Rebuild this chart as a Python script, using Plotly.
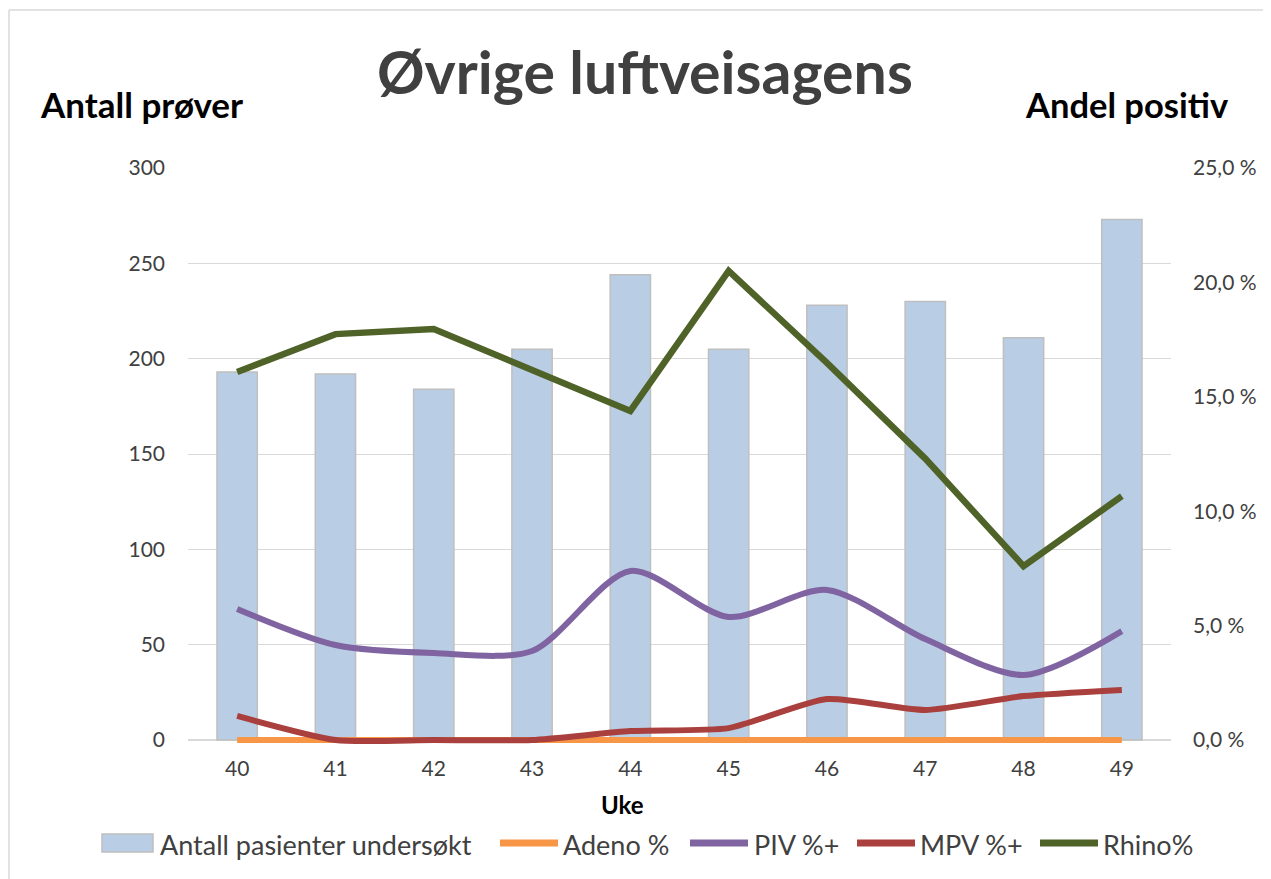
import plotly.graph_objects as go

weeks = ["40", "41", "42", "43", "44", "45", "46", "47", "48", "49"]
antall = [193, 192, 184, 205, 244, 205, 228, 230, 211, 273]
adeno = [0, 0, 0, 0, 0, 0, 0, 0, 0, 0]
piv = [5.73, 4.15, 3.80, 3.89, 7.39, 5.38, 6.56, 4.41, 2.84, 4.76]
mpv = [1.05, 0.0, 0.0, 0.0, 0.39, 0.52, 1.79, 1.31, 1.92, 2.19]
rhino = [16.08, 17.74, 17.96, 16.17, 14.38, 20.5, 16.48, 12.3, 7.6, 10.66]

series_names = ["Antall pasienter undersøkt", "Adeno %", "PIV %+", "MPV %+", "Rhino%"]
series_colors = ["#b9cde5", "#f79646", "#8064a2", "#a9403d", "#4f6228"]

FONT = "Lato"
OFF = 8  # page body margin
W, H = 1271 - OFF, 879 - OFF
# plot area in page pixels (zero line at 740, 6px extra room below so lines at 0 are not clipped)
PL, PR, PT, ZERO = 188, 1171, 168, 740
EXTRA = 6
PB = ZERO + EXTRA
Y1MAX, Y2MAX = 300, 25
Y1MIN = -Y1MAX * EXTRA / (ZERO - PT)
Y2MIN = -Y2MAX * EXTRA / (ZERO - PT)


def px(x):
    return (x - PL) / (PR - PL)


def py(y):
    return (PB - y) / (PB - PT)


fig = go.Figure()
fig.add_trace(go.Bar(x=weeks, y=antall, name=series_names[0],
                     marker=dict(color=series_colors[0], line=dict(color="#bfbfbf", width=1.5))))
fig.add_trace(go.Scatter(x=weeks, y=adeno, name=series_names[1], yaxis="y2", mode="lines",
                         line=dict(color=series_colors[1], width=6)))
fig.add_trace(go.Scatter(x=weeks, y=piv, name=series_names[2], yaxis="y2", mode="lines",
                         line=dict(color=series_colors[2], width=6, shape="spline", smoothing=0.8)))
fig.add_trace(go.Scatter(x=weeks, y=mpv, name=series_names[3], yaxis="y2", mode="lines",
                         line=dict(color=series_colors[3], width=6, shape="spline", smoothing=0.6)))
fig.add_trace(go.Scatter(x=weeks, y=rhino, name=series_names[4], yaxis="y2", mode="lines",
                         line=dict(color=series_colors[4], width=6.5)))

annotations = [
    dict(text="<b>Øvrige luftveisagens</b>", x=px(645), y=py(72), xref="paper", yref="paper",
         xanchor="center", yanchor="middle", showarrow=False,
         font=dict(family=FONT, size=59, color="#404040")),
    dict(text="<b>Antall prøver</b>", x=px(38), y=py(104), xref="paper", yref="paper",
         xanchor="left", yanchor="middle", showarrow=False,
         font=dict(family=FONT, size=35, color="#000000")),
    dict(text="<b>Andel positiv</b>", x=px(1231), y=py(104), xref="paper", yref="paper",
         xanchor="right", yanchor="middle", showarrow=False,
         font=dict(family=FONT, size=34.5, color="#000000")),
    dict(text="<b>Uke</b>", x=px(622), y=py(805), xref="paper", yref="paper",
         xanchor="center", yanchor="middle", showarrow=False,
         font=dict(family=FONT, size=24, color="#000000")),
]
shapes = [
    dict(type="line", xref="paper", yref="paper", x0=px(9), x1=px(1300), y0=py(10), y1=py(10),
         line=dict(color="#d9d9d9", width=1.5)),
    dict(type="line", xref="paper", yref="paper", x0=px(9), x1=px(9), y0=py(10), y1=py(900),
         line=dict(color="#d9d9d9", width=1.5)),
]

# manual legend (Excel-style wide swatches)
LEG_Y = 843
swatch_x = [(102, 153), (500, 558), (690, 748), (857, 915), (1040, 1098)]
text_x = [158, 561, 752, 918, 1101]
for i, name in enumerate(series_names):
    x0, x1 = swatch_x[i]
    if i == 0:
        shapes.append(dict(type="rect", xref="paper", yref="paper", x0=px(x0), x1=px(x1),
                           y0=py(LEG_Y - 9), y1=py(LEG_Y + 9), fillcolor=series_colors[0],
                           line=dict(color="#bfbfbf", width=1.5)))
    else:
        shapes.append(dict(type="line", xref="paper", yref="paper", x0=px(x0), x1=px(x1),
                           y0=py(LEG_Y), y1=py(LEG_Y), line=dict(color=series_colors[i], width=7)))
    annotations.append(dict(text=name, x=px(text_x[i]), y=py(LEG_Y + 1), xref="paper", yref="paper",
                            xanchor="left", yanchor="middle", showarrow=False,
                            font=dict(family=FONT, size=27, color="#404040")))

fig.update_layout(
    width=W, height=H,
    margin=dict(l=PL - OFF, r=W - (PR - OFF), t=PT - OFF, b=H - (PB - OFF), autoexpand=False),
    paper_bgcolor="white", plot_bgcolor="white",
    separators=", ",
    bargap=0.59,
    font=dict(family=FONT, color="#404040", size=21),
    showlegend=False,
    xaxis=dict(type="category", showgrid=False, showline=False,
               ticks="", ticklabelstandoff=8, tickfont=dict(size=21, color="#404040")),
    yaxis=dict(range=[Y1MIN, Y1MAX], tick0=0, dtick=50, showgrid=True, gridcolor="#d9d9d9", gridwidth=1.3,
               zeroline=True, zerolinecolor="#d9d9d9", zerolinewidth=1.5,
               ticks="", ticklabelstandoff=22, tickfont=dict(size=21, color="#404040")),
    yaxis2=dict(range=[Y2MIN, Y2MAX], tick0=0, dtick=5, overlaying="y", side="right", showgrid=False,
                zeroline=False, tickformat=".1f", ticksuffix=" %", ticks="", ticklabelstandoff=21,
                tickfont=dict(size=21, color="#404040")),
    annotations=annotations,
    shapes=shapes,
)

fig.write_html("out.html")
